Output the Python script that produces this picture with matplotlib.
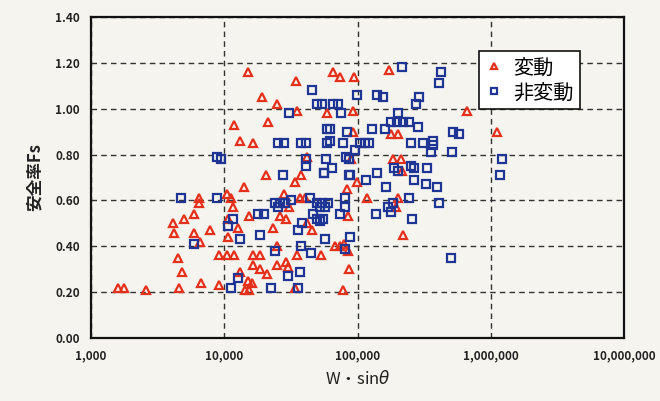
import matplotlib
matplotlib.use("Agg")
import matplotlib.pyplot as plt
from matplotlib.ticker import FixedLocator, NullLocator, FuncFormatter

plt.rcParams['font.family'] = ['Noto Sans CJK JP', 'DejaVu Sans']

# 変動 (red triangles)
red_x = [1600, 1770, 2590, 4570, 6700, 9140,
         4820, 4500, 6580, 4200, 5930, 7820,
         4120, 4990, 5930, 6470, 6470,
         10500, 11240, 11640, 10700, 10700,
         9140, 10500, 11840,
         11840, 13140, 16440, 15080, 19200, 24890, 21300,
         34510, 35160, 41780, 20560, 37670, 33960, 14080,
         28070, 36980, 40360, 30620, 15340, 26200, 29040,
         12690, 23220, 41780, 45600, 24890,
         16440, 18550, 35160, 53210,
         16440, 24890, 29040, 30090, 18550, 20940, 13140,
         15080, 16160, 14330, 15340, 33960,
         77800, 86300, 84920, 67760, 73960, 79250,
         84920, 83370, 99080, 117800, 201400, 194500, 219300,
         65460, 73960, 94190, 172300, 59020, 92470, 92470,
         178300, 201400, 89330, 184600, 211900, 215600,
         663700, 1114000]
red_y = [0.22, 0.22, 0.21, 0.22, 0.24, 0.23,
         0.29, 0.35, 0.42, 0.46, 0.46, 0.47,
         0.50, 0.52, 0.54, 0.61, 0.59,
         0.63, 0.61, 0.57, 0.52, 0.44,
         0.36, 0.36, 0.36,
         0.93, 0.86, 0.85, 1.16, 1.05, 1.02, 0.94,
         1.12, 0.99, 0.79, 0.71, 0.71, 0.68, 0.66,
         0.63, 0.61, 0.61, 0.57, 0.53, 0.53, 0.52,
         0.48, 0.48, 0.50, 0.47, 0.40,
         0.36, 0.36, 0.36, 0.36,
         0.32, 0.32, 0.33, 0.31, 0.30, 0.28, 0.29,
         0.25, 0.24, 0.21, 0.21, 0.22,
         0.21, 0.30, 0.38, 0.40, 0.40, 0.41,
         0.53, 0.65, 0.68, 0.61, 0.61, 0.57, 0.45,
         1.16, 1.14, 1.14, 1.17, 0.98, 0.99, 0.90,
         0.89, 0.89, 0.78, 0.78, 0.78, 0.73,
         0.99, 0.90]

# 非変動 (blue squares)
blue_x = [4730, 8830, 5930, 11240, 8830, 9460,
          11640, 10700, 13140, 12690, 18550, 17920, 19870,
          24040, 26200, 28580, 31700, 25320, 27610,
          22430, 30090, 36980, 35730, 24040, 37670, 44770,
          38280, 35730,
          44060, 49660, 54200, 60120, 52360, 57020,
          46340, 49660, 52360, 55080, 73960, 80540, 80540,
          57020, 87900, 80540, 56100, 87900, 115800, 163700,
          265400, 326600, 395400, 169400, 184600, 178300,
          243300, 409300, 137700, 256400, 503700, 1180000, 1216000,
          215600, 423700, 409300, 99080, 140000, 155300,
          289700, 274900, 201400, 178300, 197700, 219300, 243300,
          284400, 128500, 160700, 521200, 578100,
          251800, 310400, 368900, 368900, 104500, 113800, 121900,
          95720, 356500, 511700, 251800, 265400, 332700,
          188000, 201400, 140000, 86300, 82030, 86300, 58080,
          56100, 64420, 41020, 41020, 45600, 49660, 54200,
          65460, 71450, 75160, 30620, 59020, 62230, 83370,
          59020, 62230, 77800, 25320, 28070, 37670, 41020]
blue_y = [0.61, 0.61, 0.41, 0.22, 0.79, 0.78,
          0.52, 0.49, 0.43, 0.26, 0.45, 0.54, 0.54,
          0.59, 0.59, 0.59, 0.60, 0.57, 0.71,
          0.22, 0.27, 0.29, 0.22, 0.38, 0.40, 0.37,
          0.50, 0.47,
          0.61, 0.59, 0.59, 0.59, 0.57, 0.57,
          0.54, 0.52, 0.51, 0.52, 0.54, 0.61, 0.57,
          0.43, 0.44, 0.39, 0.72, 0.71, 0.69, 0.66,
          0.69, 0.67, 0.66, 0.57, 0.59, 0.55,
          0.61, 0.59, 0.54, 0.52, 0.35, 0.71, 0.78,
          1.18, 1.16, 1.11, 1.06, 1.06, 1.05,
          1.05, 1.02, 0.98, 0.94, 0.94, 0.94, 0.94,
          0.92, 0.91, 0.91, 0.90, 0.89,
          0.85, 0.85, 0.86, 0.84, 0.85, 0.85, 0.85,
          0.82, 0.81, 0.81, 0.75, 0.74, 0.74,
          0.74, 0.73, 0.72, 0.71, 0.79, 0.78, 0.78,
          0.72, 0.74, 0.78, 0.75, 1.08, 1.02, 1.02,
          1.02, 1.02, 0.98, 0.98, 0.91, 0.91, 0.90,
          0.85, 0.86, 0.85, 0.85, 0.85, 0.85, 0.85]

x_ticks = [1000, 10000, 100000, 1000000, 10000000]
y_ticks = [0.0, 0.2, 0.4, 0.6, 0.8, 1.0, 1.2, 1.4]

bg = '#f5f4ee'
fig = plt.figure(figsize=(6.6, 4.01), dpi=100, facecolor=bg)
ax = fig.add_axes([91/660, 63/401, 533/660, 321/401], facecolor=bg)

red_c = '#e5301c'
blue_c = '#1f3596'

ax.plot(red_x, red_y, linestyle='none', marker='^', markersize=6,
        markerfacecolor='none', markeredgecolor=red_c, markeredgewidth=1.6,
        label='変動', zorder=3)
ax.plot(blue_x, blue_y, linestyle='none', marker='s', markersize=5.3,
        markerfacecolor='none', markeredgecolor=blue_c, markeredgewidth=1.6,
        label='非変動', zorder=3)

ax.set_xscale('log')
ax.set_xlim(1000, 10000000)
ax.set_ylim(0, 1.4)
ax.xaxis.set_major_locator(FixedLocator(x_ticks))
ax.xaxis.set_minor_locator(NullLocator())
ax.xaxis.set_major_formatter(FuncFormatter(lambda v, p: f"{int(round(v)):,}"))
ax.yaxis.set_major_locator(FixedLocator(y_ticks))
ax.yaxis.set_major_formatter(FuncFormatter(lambda v, p: f"{v:.2f}"))

ax.grid(True, which='major', color='#333333', linestyle=(0, (4, 3)), linewidth=1.0)
ax.set_axisbelow(True)
for s in ax.spines.values():
    s.set_linewidth(1.6)
    s.set_color('#111111')

ax.tick_params(axis='both', length=0, pad=8, labelsize=8.5, colors='#222222')
for lab in ax.get_xticklabels() + ax.get_yticklabels():
    lab.set_fontweight('bold')

ax.set_xlabel('W・sin$\\theta$', fontsize=12, labelpad=6, color='#222222')
ax.set_ylabel('安全率Fs', fontsize=12, fontweight='bold', labelpad=8, color='#222222')

leg = ax.legend(loc='upper left', bbox_to_anchor=(0.728, 0.893), fontsize=14.5,
                frameon=True, fancybox=False, edgecolor='#111111', facecolor='white',
                framealpha=1.0, handlelength=0.9, handletextpad=0.5,
                borderpad=0.3, labelspacing=0.2, markerscale=0.75,
                borderaxespad=0)
leg.get_frame().set_linewidth(1.2)

fig.savefig('out.png', dpi=100, facecolor=bg)
